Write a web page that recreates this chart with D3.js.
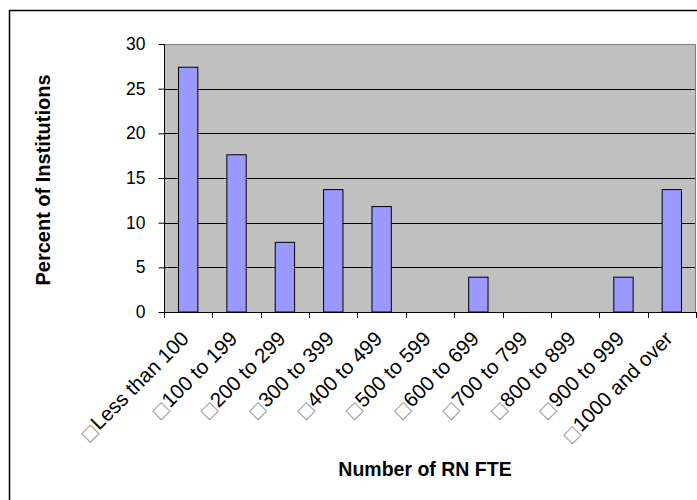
<!DOCTYPE html>
<html>
<head>
<meta charset="utf-8">
<script src="https://cdn.jsdelivr.net/npm/d3@7"></script>
<style>
  html, body { margin: 0; padding: 0; background: #fff; }
  svg { display: block; font-family: "Liberation Sans", Arial, sans-serif; }
</style>
</head>
<body>
<svg id="chart" width="697" height="500"></svg>
<script>
// Share of institutions by registered-nurse full-time-equivalent band
const categories = ["Less than 100", "100 to 199", "200 to 299", "300 to 399", "400 to 499",
  "500 to 599", "600 to 699", "700 to 799", "800 to 899", "900 to 999", "1000 and over"];
const percents = [27.4, 17.6, 7.8, 13.7, 11.8, 0, 3.9, 0, 0, 3.9, 13.7];
const yTicks = [0, 5, 10, 15, 20, 25, 30];
const yTitle = "Percent of Institutions";
const xTitle = "Number of RN FTE";

const svg = d3.select("#chart");
const plot = { left: 164, right: 696, top: 44, bottom: 312 };

// outer chart frame
svg.append("rect")
  .attr("x", 9.5).attr("y", 10.5)
  .attr("width", 720).attr("height", 520)
  .attr("fill", "#fff").attr("stroke", "#000").attr("stroke-width", 1.5);

const x = d3.scaleBand()
  .domain(categories)
  .range([plot.left, plot.right])
  .paddingInner(0.6)
  .paddingOuter(0.3);

const y = d3.scaleLinear().domain([0, 30]).range([plot.bottom, plot.top]);

// plot background
svg.append("rect")
  .attr("x", plot.left).attr("y", plot.top)
  .attr("width", plot.right - plot.left).attr("height", plot.bottom - plot.top)
  .attr("fill", "#c0c0c0");

// horizontal gridlines
svg.append("g")
  .selectAll("line")
  .data(yTicks.filter(v => v > 0 && v < 30))
  .join("line")
  .attr("x1", plot.left).attr("x2", plot.right)
  .attr("y1", d => Math.round(y(d)) + 0.5).attr("y2", d => Math.round(y(d)) + 0.5)
  .attr("stroke", "#000").attr("stroke-width", 1);

// plot border (top and right)
svg.append("path")
  .attr("d", `M${plot.left},${plot.top + 0.5}H${plot.right - 0.5}V${plot.bottom}`)
  .attr("fill", "none").attr("stroke", "#808080").attr("stroke-width", 1);

// bars
svg.append("g")
  .selectAll("rect")
  .data(categories.map((c, i) => ({ c, v: percents[i] })).filter(d => d.v > 0))
  .join("rect")
  .attr("x", d => x(d.c))
  .attr("y", d => y(d.v))
  .attr("width", x.bandwidth())
  .attr("height", d => y(0) - y(d.v))
  .attr("fill", "#9999ff")
  .attr("stroke", "#000").attr("stroke-width", 1);

// y axis
const yAxis = svg.append("g")
  .attr("transform", `translate(${plot.left + 0.5},0)`)
  .call(d3.axisLeft(y).tickValues(yTicks).tickSize(6).tickPadding(13));
yAxis.select(".domain").attr("stroke", "#000").attr("d", `M0,${plot.top}V${plot.bottom}`);
yAxis.selectAll(".tick line").attr("stroke", "#000");
yAxis.selectAll(".tick text")
  .attr("font-size", 17.5).attr("fill", "#000")
  .attr("font-family", "Liberation Sans, Arial, sans-serif");

// x axis line with ticks on category boundaries
const step = x.step();
const boundaries = d3.range(categories.length + 1).map(i => plot.left + i * step);
const xg = svg.append("g");
xg.append("line")
  .attr("x1", plot.left).attr("x2", plot.right)
  .attr("y1", plot.bottom + 0.5).attr("y2", plot.bottom + 0.5)
  .attr("stroke", "#000");
xg.selectAll("line.tick")
  .data(boundaries)
  .join("line")
  .attr("class", "tick")
  .attr("x1", d => Math.round(d) + 0.5).attr("x2", d => Math.round(d) + 0.5)
  .attr("y1", plot.bottom).attr("y2", plot.bottom + 6)
  .attr("stroke", "#000");

// rotated category labels
const labels = xg.selectAll("text")
  .data(categories)
  .join("text")
  .attr("text-anchor", "end")
  .attr("font-size", 20.5)
  .attr("fill", "#000")
  .attr("transform", d => `translate(${x(d) + x.bandwidth() / 2 + 2},${plot.bottom + 28}) rotate(-45)`);
labels.append("tspan")
  .attr("fill", "#9a9a9a")
  .attr("font-size", 17)
  .attr("font-family", "DejaVu Sans, sans-serif")
  .text("\u25A1");
labels.append("tspan").text(d => d);

// axis titles
svg.append("text")
  .attr("transform", "translate(50,180) rotate(-90)")
  .attr("text-anchor", "middle")
  .attr("font-size", 20).attr("font-weight", "bold")
  .text(yTitle);

svg.append("text")
  .attr("x", 425).attr("y", 476)
  .attr("text-anchor", "middle")
  .attr("font-size", 19.5).attr("font-weight", "bold")
  .text(xTitle);
</script>
</body>
</html>
